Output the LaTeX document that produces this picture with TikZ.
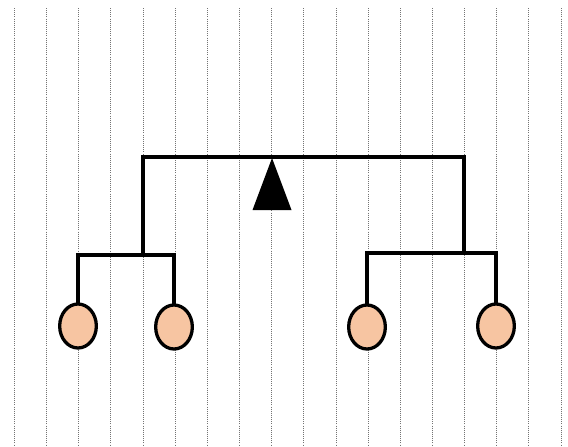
\documentclass[tikz,border=0pt]{standalone}
\usepackage{xcolor}
\usetikzlibrary{shapes.geometric,positioning}
\definecolor{peach}{RGB}{247,197,162}
\tikzset{
  guide/.style={gray!90!black,densely dotted,line width=0.8pt},
  branch/.style={black,line width=2.9pt,line cap=rect},
  leaf/.style={ellipse,draw=black,line width=2.8pt,fill=peach,
    minimum width=1.1cm,minimum height=1.32cm,inner sep=0pt}
}

\begin{document}
\begin{tikzpicture}[x=0.03cm,y=-0.03cm]
\useasboundingbox (0,0) rectangle (568,446);
\fill[white](0,0) rectangle (568,446);
\foreach \i in {0,...,17}
  \draw[guide](14.5+32.15*\i,8) -- (14.5+32.15*\i,446);
\node[leaf] (leafa) at (78,326) {};
\node[leaf] (leafb) at (174,327) {};
\node[leaf] (leafc) at (367,327) {};
\node[leaf] (leafd) at (496,326) {};
\coordinate (joinl) at (143,255);
\coordinate (joinr) at (464,253);
\coordinate (topbar) at (143,157);
\coordinate (pivot) at (272,158);
\draw[branch](leafa.north) -- (leafa.north |- joinl) -- (leafb.north |- joinl) -- (leafb.north);
\draw[branch](leafc.north) -- (leafc.north |- joinr) -- (leafd.north |- joinr) -- (leafd.north);
\draw[branch](joinl) -- (topbar) -- (joinr |- topbar) -- (joinr);
\fill[black](pivot) -- ++(-19.5,52) -- ++(39,0) -- cycle;
\end{tikzpicture}
\end{document}
